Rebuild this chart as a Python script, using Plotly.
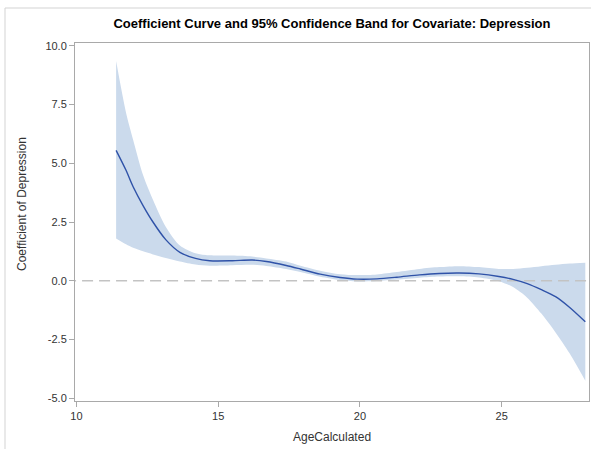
import plotly.graph_objects as go

age = [11.40, 11.75, 12.00, 12.35, 12.70, 13.15, 13.65, 14.20, 14.70, 15.50,
       16.20, 16.70, 17.40, 17.90, 18.60, 19.30, 19.90, 20.60, 21.30, 22.10,
       22.80, 23.50, 24.20, 24.90, 25.40, 25.90, 26.40, 26.90, 27.40, 27.95]
coef = [5.55, 4.70, 4.00, 3.20, 2.50, 1.75, 1.21, 0.95, 0.85, 0.85,
        0.88, 0.82, 0.65, 0.50, 0.28, 0.14, 0.07, 0.08, 0.15, 0.25,
        0.31, 0.33, 0.29, 0.18, 0.06, -0.12, -0.38, -0.68, -1.14, -1.75]
lower = [1.80, 1.55, 1.40, 1.25, 1.12, 0.97, 0.82, 0.69, 0.64, 0.66,
         0.68, 0.63, 0.50, 0.37, 0.17, 0.03, -0.03, -0.01, 0.05, 0.13,
         0.18, 0.19, 0.14, -0.02, -0.27, -0.72, -1.40, -2.20, -3.10, -4.26]
upper = [9.35, 7.15, 6.00, 4.50, 3.45, 2.30, 1.50, 1.17, 1.08, 1.07,
         1.03, 0.95, 0.82, 0.64, 0.43, 0.28, 0.24, 0.27, 0.37, 0.50,
         0.58, 0.62, 0.58, 0.50, 0.50, 0.55, 0.62, 0.68, 0.73, 0.77]

xticks = [10, 15, 20, 25]
yticks = [-5.0, -2.5, 0.0, 2.5, 5.0, 7.5, 10.0]
ytick_text = ["-5.0", "-2.5", "0.0", "2.5", "5.0", "7.5", "10.0"]

FONT = "Liberation Sans, Arial, sans-serif"
band_color = "#cbdaec"
line_color = "#2f52a8"
axis_color = "#a9a9a9"

fig = go.Figure()
fig.add_trace(go.Scatter(x=age, y=lower, mode="lines",
                         line=dict(width=0, color=band_color, shape="spline", smoothing=0.8),
                         showlegend=False, hoverinfo="skip"))
fig.add_trace(go.Scatter(x=age, y=upper, mode="lines",
                         line=dict(width=0, color=band_color, shape="spline", smoothing=0.8),
                         fill="tonexty", fillcolor=band_color, showlegend=False, hoverinfo="skip"))
fig.add_trace(go.Scatter(x=[9.0, 29.0], y=[0, 0], mode="lines",
                         line=dict(color="#c3c3c3", width=1.6, dash="11px,6px"),
                         showlegend=False, hoverinfo="skip"))
fig.add_trace(go.Scatter(x=age, y=coef, mode="lines",
                         line=dict(color=line_color, width=1.4, shape="spline", smoothing=0.8),
                         showlegend=False))

fig.update_layout(
    width=591, height=449,
    margin=dict(l=75, r=2, t=43, b=48),
    paper_bgcolor="white", plot_bgcolor="white",
    font=dict(family=FONT, size=11, color="#333333"),
    title=dict(text="<b>Coefficient Curve and 95% Confidence Band for Covariate: Depression</b>",
               x=0.5, xref="paper", y=1 - 23 / 449, yref="container", yanchor="middle",
               font=dict(family=FONT, size=13, color="#000000")),
    xaxis=dict(range=[9.95, 28.08], tickvals=xticks, ticks="outside", ticklen=5,
               tickcolor=axis_color, showline=True, linecolor=axis_color, mirror=True,
               showgrid=False, zeroline=False, tickfont=dict(size=11, color="#333333")),
    yaxis=dict(range=[-5.12, 10.12], tickvals=yticks, ticktext=ytick_text, ticks="outside", ticklen=5,
               tickcolor=axis_color, showline=True, linecolor=axis_color, mirror=True,
               showgrid=False, zeroline=False, tickfont=dict(size=11, color="#333333")),
    annotations=[
        dict(text="AgeCalculated", xref="paper", yref="paper", x=0.5, y=(401 - 437) / 358,
             showarrow=False, xanchor="center", yanchor="middle",
             font=dict(family=FONT, size=12, color="#333333")),
        dict(text="Coefficient of Depression", xref="paper", yref="paper",
             x=(22 - 75) / 514, y=(401 - 204) / 358, textangle=-90,
             showarrow=False, xanchor="center", yanchor="middle",
             font=dict(family=FONT, size=12, color="#333333")),
    ],
    shapes=[dict(type="rect", xref="paper", yref="paper",
                 x0=(5 - 75) / 514, x1=1.3, y0=-0.4, y1=1 + (43 - 8) / 358,
                 line=dict(color="#d3d3d3", width=1), fillcolor="rgba(0,0,0,0)", layer="below")],
)

fig.write_html("out.html")
